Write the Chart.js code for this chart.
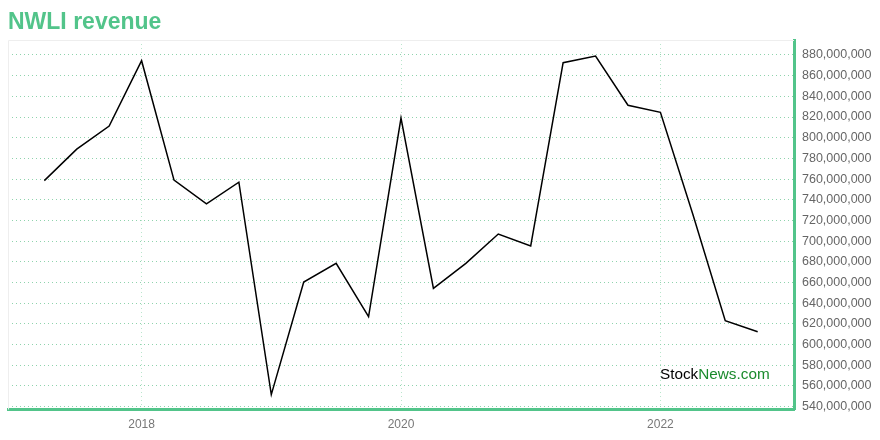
<!DOCTYPE html>
<html>
<head>
<meta charset="utf-8">
<script src="https://cdn.jsdelivr.net/npm/chart.js@4"></script>
<style>
  html, body { margin: 0; padding: 0; background: #fff; }
  #chart { display: block; }
</style>
</head>
<body>
<canvas id="chart" width="880" height="440"></canvas>
<script>
// quarter end dates and revenue (USD)
const quarters = [
    '2017-03-31', '2017-06-30', '2017-09-30', '2017-12-31',
    '2018-03-31', '2018-06-30', '2018-09-30', '2018-12-31',
    '2019-03-31', '2019-06-30', '2019-09-30', '2019-12-31',
    '2020-03-31', '2020-06-30', '2020-09-30', '2020-12-31',
    '2021-03-31', '2021-06-30', '2021-09-30', '2021-12-31',
    '2022-03-31', '2022-06-30', '2022-09-30'
];
const revenue = [
    758500000, 789000000, 811300000, 874500000,
    759000000, 736000000, 757000000, 551600000,
    660500000, 678500000, 627000000, 819000000,
    654400000, 678500000, 706900000, 695300000,
    872600000, 879000000, 831400000, 824500000,
    726000000, 623000000, 612400000
];
const xTicks = [2018, 2020, 2022];
const yTicks = [
    540000000, 560000000, 580000000, 600000000, 620000000, 640000000,
    660000000, 680000000, 700000000, 720000000, 740000000, 760000000,
    780000000, 800000000, 820000000, 840000000, 860000000, 880000000
];

const GREEN = '#52c48a';

// date string -> decimal year (quarter end = year + month/12)
function toYear(d) {
    const [y, m] = d.split('-').map(Number);
    return y + m / 12;
}

const points = quarters.map((q, i) => ({ x: toYear(q), y: revenue[i] }));

const frame = {
    id: 'frame',
    beforeDatasetsDraw(chart) {
        const { ctx, chartArea: a } = chart;
        ctx.save();
        ctx.strokeStyle = '#eeeeee';
        ctx.lineWidth = 1;
        ctx.beginPath();
        ctx.moveTo(a.left + 0.5, a.bottom);
        ctx.lineTo(a.left + 0.5, a.top + 0.5);
        ctx.lineTo(a.right, a.top + 0.5);
        ctx.stroke();
        ctx.restore();
    }
};

const watermark = {
    id: 'watermark',
    afterDraw(chart) {
        const { ctx, chartArea: a } = chart;
        ctx.save();
        ctx.font = '15.3px "Liberation Sans", Arial, sans-serif';
        ctx.textBaseline = 'alphabetic';
        const x = a.left + 652;
        const y = a.top + 339;
        ctx.fillStyle = '#000';
        ctx.fillText('Stock', x, y);
        const w = ctx.measureText('Stock').width;
        ctx.fillStyle = '#1a8a2c';
        ctx.fillText('News.com', x + w, y);
        ctx.restore();
    }
};

new Chart(document.getElementById('chart'), {
    type: 'line',
    data: {
        datasets: [{
            label: 'NWLI revenue',
            data: points,
            borderColor: '#000',
            borderWidth: 1.5,
            pointRadius: 0,
            tension: 0,
            fill: false
        }]
    },
    options: {
        responsive: false,
        animation: false,
        layout: { padding: { left: 8, right: 0, top: 0, bottom: 0 } },
        plugins: {
            legend: { display: false },
            tooltip: { enabled: false },
            title: {
                display: true,
                text: 'NWLI revenue',
                align: 'start',
                color: GREEN,
                font: { size: 23, weight: 'bold', family: '"Liberation Sans", Arial, sans-serif' },
                padding: { top: 9, bottom: 3.4 }
            }
        },
        scales: {
            x: {
                type: 'linear',
                min: 2016.97,
                max: 2023.03,
                afterBuildTicks(scale) {
                    scale.ticks = xTicks.map(v => ({ value: v }));
                },
                afterFit(scale) { scale.height = 30.5; },
                grid: { color: '#b9e6cc', drawTicks: false },
                border: { display: true, color: GREEN, width: 3, dash: [1, 3] },
                ticks: {
                    color: '#777',
                    padding: 8,
                    font: { size: 12, family: '"Liberation Sans", Arial, sans-serif' },
                    callback: v => String(v)
                }
            },
            y: {
                position: 'right',
                min: 537200000,
                max: 894500000,
                afterBuildTicks(scale) {
                    scale.ticks = yTicks.map(v => ({ value: v }));
                },
                afterFit(scale) { scale.width = 86; },
                grid: { color: '#8fd3ad', drawTicks: false },
                border: { display: true, color: GREEN, width: 3, dash: [1, 3] },
                ticks: {
                    color: '#666',
                    padding: 8,
                    font: { size: 12.5, family: '"Liberation Sans", Arial, sans-serif' },
                    callback: v => v.toLocaleString('en-US')
                }
            }
        }
    },
    plugins: [frame, watermark]
});
</script>
</body>
</html>
